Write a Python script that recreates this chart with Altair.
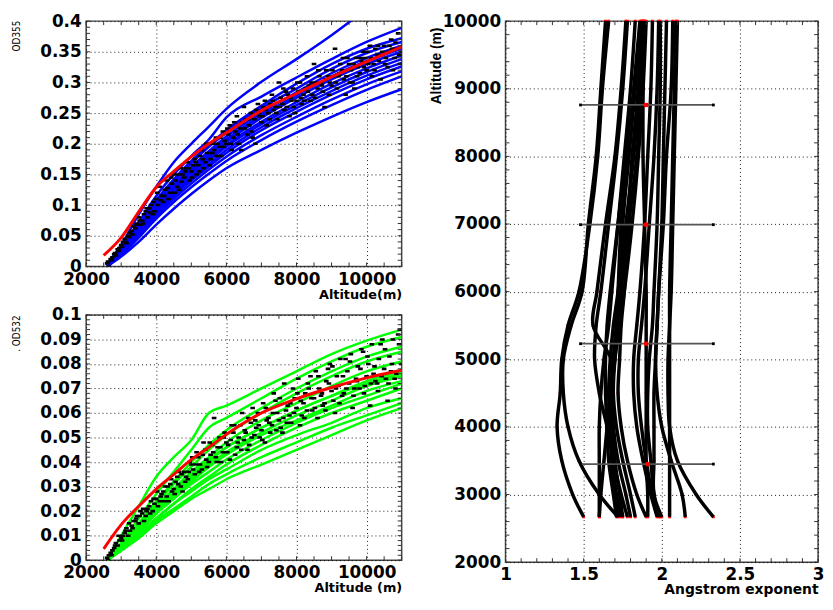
import altair as alt
import pandas as pd

# ---------------- data ----------------
ALT_NODES = [2600, 3000, 3500, 4000, 4500, 5000, 5500, 6000, 7000, 8000, 9000, 10000, 11000]

FIT_ALT = [2500, 3000, 3500, 4000, 4500, 5000, 5500, 6000, 7000, 8000, 9000, 10000, 11000]
FIT_355 = [0.018, 0.047, 0.089, 0.129, 0.155, 0.179, 0.200, 0.218, 0.254, 0.282, 0.309, 0.334, 0.358]
FIT_532 = [0.0046, 0.0145, 0.022, 0.029, 0.035, 0.041, 0.046, 0.0513, 0.060, 0.0658, 0.0704, 0.0743, 0.0774]

OD355_LINES = [
    [0.003, 0.035, 0.085, 0.130, 0.170, 0.200, 0.228, 0.257, 0.301, 0.338, 0.377, 0.420, None],
    [0.003, 0.030, 0.072, 0.115, 0.150, 0.180, 0.207, 0.243, 0.277, 0.308, 0.338, 0.366, 0.389],
    [0.002, 0.028, 0.068, 0.108, 0.142, 0.172, 0.198, 0.222, 0.262, 0.298, 0.330, 0.355, 0.372],
    [0.004, 0.030, 0.066, 0.104, 0.138, 0.168, 0.195, 0.218, 0.258, 0.290, 0.322, 0.348, 0.366],
    [0.002, 0.026, 0.062, 0.100, 0.133, 0.162, 0.188, 0.212, 0.250, 0.284, 0.315, 0.340, 0.360],
    [0.003, 0.027, 0.064, 0.098, 0.130, 0.158, 0.184, 0.207, 0.246, 0.279, 0.310, 0.335, 0.355],
    [0.001, 0.024, 0.058, 0.094, 0.126, 0.154, 0.180, 0.203, 0.242, 0.275, 0.305, 0.330, 0.350],
    [0.003, 0.025, 0.060, 0.095, 0.125, 0.152, 0.176, 0.198, 0.236, 0.268, 0.298, 0.323, 0.344],
    [0.002, 0.022, 0.055, 0.090, 0.120, 0.147, 0.172, 0.195, 0.232, 0.263, 0.292, 0.317, 0.338],
    [0.001, 0.023, 0.056, 0.088, 0.117, 0.143, 0.167, 0.190, 0.227, 0.258, 0.286, 0.311, 0.332],
    [0.002, 0.021, 0.052, 0.085, 0.114, 0.140, 0.163, 0.185, 0.222, 0.252, 0.280, 0.305, 0.326],
    [0.001, 0.020, 0.050, 0.082, 0.110, 0.135, 0.158, 0.179, 0.214, 0.244, 0.272, 0.297, 0.318],
    [0.000, 0.018, 0.047, 0.078, 0.105, 0.129, 0.151, 0.172, 0.206, 0.236, 0.263, 0.288, 0.310],
    [0.000, 0.016, 0.040, 0.068, 0.094, 0.118, 0.140, 0.160, 0.190, 0.218, 0.244, 0.268, 0.289],
]

OD532_LINES = [
    [0.000, 0.010, 0.022, 0.034, 0.042, 0.049, 0.060, 0.063, 0.070, 0.077, 0.084, 0.0895, 0.094],
    [0.000, 0.007, 0.017, 0.027, 0.036, 0.045, 0.054, 0.058, 0.066, 0.074, 0.081, 0.087, 0.091],
    [0.001, 0.006, 0.015, 0.024, 0.032, 0.040, 0.047, 0.053, 0.062, 0.070, 0.077, 0.083, 0.087],
    [0.000, 0.006, 0.014, 0.023, 0.031, 0.038, 0.045, 0.051, 0.060, 0.068, 0.075, 0.081, 0.085],
    [0.001, 0.005, 0.013, 0.021, 0.029, 0.036, 0.042, 0.048, 0.057, 0.064, 0.071, 0.077, 0.081],
    [0.000, 0.005, 0.013, 0.021, 0.028, 0.034, 0.040, 0.046, 0.054, 0.061, 0.067, 0.073, 0.077],
    [0.001, 0.006, 0.014, 0.022, 0.029, 0.035, 0.041, 0.046, 0.054, 0.061, 0.067, 0.072, 0.076],
    [0.000, 0.005, 0.012, 0.020, 0.027, 0.033, 0.039, 0.044, 0.052, 0.059, 0.065, 0.071, 0.075],
    [0.001, 0.004, 0.011, 0.019, 0.026, 0.032, 0.038, 0.043, 0.051, 0.057, 0.063, 0.069, 0.073],
    [0.000, 0.005, 0.012, 0.019, 0.025, 0.031, 0.036, 0.041, 0.049, 0.056, 0.062, 0.067, 0.072],
    [0.000, 0.004, 0.010, 0.017, 0.023, 0.029, 0.034, 0.039, 0.047, 0.054, 0.060, 0.065, 0.070],
    [0.001, 0.004, 0.010, 0.017, 0.023, 0.028, 0.033, 0.037, 0.045, 0.051, 0.056, 0.062, 0.066],
    [0.000, 0.004, 0.009, 0.016, 0.021, 0.026, 0.031, 0.035, 0.042, 0.048, 0.054, 0.059, 0.064],
    [0.000, 0.004, 0.009, 0.015, 0.020, 0.025, 0.029, 0.033, 0.039, 0.045, 0.051, 0.057, 0.062],
]

DOTS_355 = [
    (2600, 0.005), (2700, 0.012), (2800, 0.02), (2900, 0.028), (3000, 0.035), (3100, 0.045), (3200, 0.05),
    (3300, 0.058), (3400, 0.062), (3500, 0.08), (3600, 0.075), (3700, 0.09), (3800, 0.095), (3900, 0.085),
    (4000, 0.11), (4100, 0.13), (4200, 0.105), (4300, 0.14), (4400, 0.12), (4500, 0.15), (4600, 0.13),
    (4700, 0.16), (4800, 0.145), (4900, 0.17), (5000, 0.155), (5100, 0.175), (5200, 0.165), (5300, 0.19),
    (5400, 0.17), (5500, 0.2), (5600, 0.185), (5700, 0.21), (5800, 0.195), (5900, 0.22), (6000, 0.2),
    (6100, 0.23), (6200, 0.21), (6300, 0.245), (6400, 0.225), (6500, 0.26), (6600, 0.215), (6700, 0.25),
    (6800, 0.24), (6900, 0.265), (7000, 0.235), (7100, 0.27), (7200, 0.25), (7300, 0.28), (7400, 0.26),
    (7500, 0.3), (7600, 0.265), (7700, 0.285), (7800, 0.245), (7900, 0.29), (8000, 0.27), (8100, 0.3),
    (8200, 0.28), (8300, 0.31), (8400, 0.27), (8500, 0.33), (8600, 0.29), (8700, 0.3), (8800, 0.26),
    (8900, 0.31), (9000, 0.295), (9100, 0.355), (9200, 0.31), (9300, 0.32), (9400, 0.28), (9500, 0.33),
    (9600, 0.3), (9700, 0.34), (9800, 0.315), (9900, 0.35), (10000, 0.32), (10100, 0.36), (10200, 0.33),
    (10300, 0.345), (10400, 0.305), (10500, 0.36), (10600, 0.325), (10700, 0.37), (10800, 0.34),
    (10900, 0.38), (11000, 0.35),
    (2650, 0.0), (2750, 0.015), (2850, 0.018), (2950, 0.03), (3050, 0.04), (3150, 0.038), (3250, 0.055),
    (3350, 0.065), (3450, 0.07), (3550, 0.068), (3650, 0.085), (3750, 0.08), (3850, 0.1), (3950, 0.09),
    (4050, 0.1), (4150, 0.115), (4250, 0.125), (4350, 0.11), (4450, 0.135), (4550, 0.14), (4650, 0.125),
    (4750, 0.15), (4850, 0.16), (4950, 0.14), (5050, 0.165), (5150, 0.15), (5250, 0.18), (5350, 0.16),
    (5450, 0.185), (5550, 0.175), (5650, 0.19), (5750, 0.2), (5850, 0.18), (5950, 0.205), (6050, 0.215),
    (6150, 0.19), (6250, 0.22), (6350, 0.2), (6450, 0.235), (6550, 0.24), (6650, 0.23), (6750, 0.21),
    (6850, 0.255), (6950, 0.245), (7050, 0.26), (7150, 0.23), (7250, 0.265), (7350, 0.255), (7450, 0.24),
    (7550, 0.275), (7650, 0.255), (7750, 0.28), (7850, 0.27), (7950, 0.25), (8050, 0.285), (8150, 0.265),
    (8250, 0.29), (8350, 0.295), (8450, 0.28), (8550, 0.3), (8650, 0.31), (8750, 0.285), (8850, 0.32),
    (8950, 0.3), (9050, 0.31), (9150, 0.29), (9250, 0.33), (9350, 0.305), (9450, 0.34), (9550, 0.32),
    (9650, 0.29), (9750, 0.325), (9850, 0.335), (9950, 0.34), (10050, 0.33), (10150, 0.31), (10250, 0.355),
    (10350, 0.335), (10450, 0.35), (10550, 0.34), (10650, 0.36), (10750, 0.32), (10850, 0.355), (10950, 0.33),
    (2625, 0.008), (2725, 0.01), (2825, 0.022), (2925, 0.025), (3025, 0.032), (3125, 0.04), (3225, 0.048),
    (3325, 0.052), (3425, 0.068), (3525, 0.075), (3625, 0.07), (3725, 0.095), (3825, 0.088), (3925, 0.105),
    (4025, 0.12), (4125, 0.108), (4225, 0.115), (4325, 0.128), (4425, 0.145), (4525, 0.12), (4625, 0.15),
    (4725, 0.138), (4825, 0.155), (4925, 0.16), (5025, 0.145), (5125, 0.17), (5225, 0.155), (5325, 0.175),
    (5425, 0.2), (5525, 0.165), (5625, 0.2), (5725, 0.18), (5825, 0.21), (5925, 0.195), (6025, 0.225),
    (6125, 0.2), (6225, 0.235), (6325, 0.215), (6425, 0.19), (6525, 0.225), (6625, 0.24), (6725, 0.22),
    (6825, 0.2), (6925, 0.25), (7025, 0.245), (7125, 0.255), (7225, 0.24), (7325, 0.27), (7425, 0.25),
    (7525, 0.26), (7625, 0.29), (7725, 0.26), (7825, 0.275), (7925, 0.26), (8025, 0.3), (8125, 0.275),
    (8225, 0.27), (8325, 0.285), (8425, 0.3), (8525, 0.275), (8625, 0.32), (8725, 0.295), (8825, 0.305),
    (8925, 0.28), (9025, 0.32), (9125, 0.3), (9225, 0.315), (9325, 0.34), (9425, 0.31), (9525, 0.3),
    (9625, 0.33), (9725, 0.31), (9825, 0.34), (9925, 0.325), (10025, 0.35), (10125, 0.34), (10225, 0.32),
    (10325, 0.36), (10425, 0.345), (10525, 0.33), (10625, 0.35), (10725, 0.355), (10825, 0.365), (10925, 0.345),
]

DOTS_532 = [
    (2600, 0.001), (2700, 0.003), (2800, 0.005), (2900, 0.006), (3000, 0.009), (3100, 0.011), (3200, 0.01),
    (3300, 0.014), (3400, 0.016), (3500, 0.015), (3600, 0.019), (3700, 0.018), (3800, 0.022), (3900, 0.02),
    (4000, 0.025), (4100, 0.024), (4200, 0.028), (4300, 0.026), (4400, 0.031), (4500, 0.029), (4600, 0.034),
    (4700, 0.03), (4800, 0.036), (4900, 0.033), (5000, 0.039), (5100, 0.035), (5200, 0.042), (5300, 0.037),
    (5400, 0.045), (5500, 0.04), (5600, 0.047), (5700, 0.042), (5800, 0.05), (5900, 0.044), (6000, 0.048),
    (6100, 0.041), (6200, 0.052), (6300, 0.046), (6400, 0.055), (6500, 0.049), (6600, 0.045), (6700, 0.056),
    (6800, 0.051), (6900, 0.06), (7000, 0.053), (7100, 0.048), (7200, 0.058), (7300, 0.055), (7400, 0.065),
    (7500, 0.057), (7600, 0.052), (7700, 0.061), (7800, 0.059), (7900, 0.07), (8000, 0.062), (8100, 0.055),
    (8200, 0.064), (8300, 0.061), (8400, 0.075), (8500, 0.066), (8600, 0.058), (8700, 0.067), (8800, 0.064),
    (8900, 0.078), (9000, 0.069), (9100, 0.06), (9200, 0.071), (9300, 0.067), (9400, 0.082), (9500, 0.072),
    (9600, 0.062), (9700, 0.074), (9800, 0.07), (9900, 0.085), (10000, 0.075), (10100, 0.063), (10200, 0.076),
    (10300, 0.072), (10400, 0.088), (10500, 0.078), (10600, 0.065), (10700, 0.077), (10800, 0.074),
    (10900, 0.092), (11000, 0.08),
    (2650, 0.002), (2750, 0.004), (2850, 0.007), (2950, 0.008), (3050, 0.01), (3150, 0.013), (3250, 0.012),
    (3350, 0.016), (3450, 0.018), (3550, 0.02), (3650, 0.016), (3750, 0.021), (3850, 0.024), (3950, 0.023),
    (4050, 0.022), (4150, 0.027), (4250, 0.03), (4350, 0.024), (4450, 0.028), (4550, 0.032), (4650, 0.036),
    (4750, 0.028), (4850, 0.034), (4950, 0.04), (5050, 0.037), (5150, 0.044), (5250, 0.039), (5350, 0.048),
    (5450, 0.038), (5550, 0.043), (5650, 0.058), (5750, 0.046), (5850, 0.04), (5950, 0.052), (6050, 0.047),
    (6150, 0.055), (6250, 0.043), (6350, 0.05), (6450, 0.06), (6550, 0.052), (6650, 0.047), (6750, 0.062),
    (6850, 0.054), (6950, 0.05), (7050, 0.064), (7150, 0.057), (7250, 0.052), (7350, 0.068), (7450, 0.06),
    (7550, 0.054), (7650, 0.072), (7750, 0.063), (7850, 0.056), (7950, 0.066), (8050, 0.074), (8150, 0.059),
    (8250, 0.068), (8350, 0.07), (8450, 0.061), (8550, 0.077), (8650, 0.07), (8750, 0.063), (8850, 0.073),
    (8950, 0.08), (9050, 0.065), (9150, 0.075), (9250, 0.082), (9350, 0.068), (9450, 0.077), (9550, 0.084),
    (9650, 0.07), (9750, 0.079), (9850, 0.086), (9950, 0.071), (10050, 0.08), (10150, 0.088), (10250, 0.073),
    (10350, 0.082), (10450, 0.09), (10550, 0.074), (10650, 0.083), (10750, 0.09), (10850, 0.076), (10950, 0.094),
    (2625, 0.0), (2725, 0.002), (2825, 0.006), (2925, 0.01), (3025, 0.008), (3125, 0.012), (3225, 0.015),
    (3325, 0.013), (3425, 0.017), (3525, 0.018), (3625, 0.021), (3725, 0.02), (3825, 0.019), (3925, 0.025),
    (4025, 0.028), (4125, 0.026), (4225, 0.024), (4325, 0.03), (4425, 0.033), (4525, 0.027), (4625, 0.031),
    (4725, 0.035), (4825, 0.032), (4925, 0.036), (5025, 0.042), (5125, 0.039), (5225, 0.036), (5325, 0.043),
    (5425, 0.041), (5525, 0.048), (5625, 0.044), (5725, 0.04), (5825, 0.046), (5925, 0.05), (6025, 0.044),
    (6125, 0.049), (6225, 0.055), (6325, 0.048), (6425, 0.045), (6525, 0.053), (6625, 0.058), (6725, 0.05),
    (6825, 0.057), (6925, 0.055), (7025, 0.049), (7125, 0.062), (7225, 0.056), (7325, 0.06), (7425, 0.053),
    (7525, 0.066), (7625, 0.058), (7725, 0.056), (7825, 0.064), (7925, 0.06), (8025, 0.068), (8125, 0.065),
    (8225, 0.058), (8325, 0.072), (8425, 0.066), (8525, 0.062), (8625, 0.075), (8725, 0.068), (8825, 0.061),
    (8925, 0.072), (9025, 0.079), (9125, 0.07), (9225, 0.064), (9325, 0.075), (9425, 0.07), (9525, 0.081),
    (9625, 0.067), (9725, 0.073), (9825, 0.078), (9925, 0.068), (10025, 0.083), (10125, 0.072), (10225, 0.079),
    (10325, 0.069), (10425, 0.075), (10525, 0.086), (10625, 0.072), (10725, 0.08), (10825, 0.07), (10925, 0.088),
]

# Angstrom exponent profiles (x = exponent) at these altitudes
ANG_ALT = [2670, 3000, 3500, 4000, 4500, 5000, 5500, 6000, 7000, 8000, 9000, 10000]
ANG_LINES = [
    [1.50, 1.43, 1.36, 1.33, 1.35, 1.36, 1.40, 1.47, 1.54, 1.59, 1.62, 1.66],
    [1.72, 1.60, 1.47, 1.40, 1.37, 1.37, 1.42, 1.49, 1.53, 1.58, 1.61, 1.64],
    [1.60, 1.60, 1.60, 1.60, 1.61, 1.63, 1.66, 1.68, 1.72, 1.76, 1.80, 1.83],
    [1.75, 1.71, 1.69, 1.68, 1.685, 1.675, 1.56, 1.585, 1.64, 1.70, 1.74, 1.77],
    [1.60, 1.61, 1.63, 1.65, 1.67, 1.69, 1.71, 1.72, 1.74, 1.78, 1.82, 1.86],
    [1.71, 1.69, 1.66, 1.65, 1.64, 1.64, 1.65, 1.67, 1.72, 1.77, 1.83, 1.87],
    [1.73, 1.70, 1.68, 1.67, 1.66, 1.67, 1.69, 1.72, 1.77, 1.82, 1.86, 1.89],
    [1.75, 1.73, 1.70, 1.68, 1.68, 1.70, 1.73, 1.76, 1.81, 1.85, 1.88, 1.90],
    [1.80, 1.77, 1.72, 1.69, 1.68, 1.69, 1.71, 1.73, 1.75, 1.79, 1.83, 1.87],
    [1.83, 1.80, 1.75, 1.71, 1.69, 1.70, 1.72, 1.74, 1.78, 1.81, 1.85, 1.88],
    [1.90, 1.84, 1.78, 1.74, 1.72, 1.73, 1.74, 1.76, 1.79, 1.84, 1.87, 1.89],
    [1.91, 1.91, 1.90, 1.90, 1.90, 1.90, 1.90, 1.90, 1.89, 1.88, 1.88, 1.88],
    [1.97, 1.93, 1.88, 1.84, 1.82, 1.82, 1.84, 1.86, 1.89, 1.91, 1.93, 1.94],
    [1.98, 1.95, 1.93, 1.91, 1.91, 1.92, 1.94, 1.95, 1.97, 1.98, 1.99, 1.99],
    [1.99, 1.94, 1.90, 1.87, 1.85, 1.85, 1.87, 1.89, 1.92, 1.95, 1.97, 1.98],
    [2.00, 1.95, 1.95, 1.95, 1.95, 1.96, 1.97, 1.98, 2.00, 2.01, 2.02, 2.03],
    [2.05, 2.05, 2.05, 2.05, 2.05, 2.05, 2.05, 2.05, 2.06, 2.07, 2.08, 2.09],
    [2.15, 2.13, 2.06, 2.00, 1.97, 1.96, 1.97, 1.98, 2.01, 2.03, 2.06, 2.07],
    [2.33, 2.22, 2.10, 2.05, 2.04, 2.04, 2.05, 2.06, 2.07, 2.08, 2.09, 2.10],
    [1.78, 1.74, 1.69, 1.65, 1.60, 1.57, 1.58, 1.61, 1.66, 1.71, 1.75, 1.78],
]

ERR_ALT = [3450, 5230, 6990, 8760]
ERR_MID = [1.91, 1.90, 1.90, 1.90]
ERR_LO = [1.48, 1.48, 1.48, 1.48]
ERR_HI = [2.33, 2.33, 2.33, 2.33]

X_TICKS_LEFT = [2000, 4000, 6000, 8000, 10000]
Y_TICKS_355 = [0, 0.05, 0.1, 0.15, 0.2, 0.25, 0.3, 0.35, 0.4]
Y_TICKS_532 = [0, 0.01, 0.02, 0.03, 0.04, 0.05, 0.06, 0.07, 0.08, 0.09, 0.1]
X_TICKS_ANG = [1, 1.5, 2, 2.5, 3]
Y_TICKS_ANG = [2000, 3000, 4000, 5000, 6000, 7000, 8000, 9000, 10000]

# ---------------- helpers ----------------
def long_df(nodes, lines):
    rows = []
    for i, vals in enumerate(lines):
        for a, v in zip(nodes, vals):
            if v is not None:
                rows.append({"x": a, "y": v, "id": i})
    return pd.DataFrame(rows)


def steps(lo, hi, step):
    n = int(round((hi - lo) / step))
    return [round(lo + k * step, 6) for k in range(n + 1)]


LABEL_FONT = "DejaVu Sans"
NARROW_FONT = "Liberation Sans Narrow, DejaVu Sans Condensed, Liberation Sans, sans-serif"
DASH = "M-1,-0.55H1V0.55H-1Z"


def x_axis(values, fmt, title, W, title_size=13, title_font=LABEL_FONT):
    return alt.Axis(
        values=values, title=title, orient="bottom", format=fmt, grid=True, gridColor="#000",
        gridDash=[1, 3], gridWidth=1, gridOpacity=0.9, ticks=False, domain=False,
        labelFont=LABEL_FONT, labelFontWeight="bold", labelFontSize=17, labelColor="#000",
        labelPadding=5, labelFlush=False, labelOverlap=False,
        titleFont=title_font, titleFontSize=title_size, titleFontWeight="bold", titleColor="#000",
        titleX=W, titleY=28, titleAlign="right", titleBaseline="middle", titleAngle=0,
    )


def y_axis(values, fmt, title, title_y, title_size=10, title_weight="normal", title_font=NARROW_FONT):
    return alt.Axis(
        values=values, title=title, orient="left", format=fmt, grid=True, gridColor="#000",
        gridDash=[1, 3], gridWidth=1, gridOpacity=0.9, ticks=False, domain=False,
        labelFont=LABEL_FONT, labelFontWeight="bold", labelFontSize=17, labelColor="#000",
        labelPadding=5, labelFlush=False, labelOverlap=False,
        titleFont=title_font, titleFontSize=title_size, titleFontWeight=title_weight, titleColor="#000",
        titleX=-70, titleY=title_y, titleAlign="right", titleBaseline="middle", titleAngle=270,
    )


def minor_ticks(xs, ys, W, H, xenc, yenc, L=4):
    dx = pd.DataFrame({"x": xs})
    dy = pd.DataFrame({"y": ys})
    rc = dict(color="#333", strokeWidth=1)
    return [
        alt.Chart(dy).mark_rule(**rc).encode(y=yenc, x=alt.value(0), x2=alt.value(L)),
        alt.Chart(dy).mark_rule(**rc).encode(y=yenc, x=alt.value(W - L), x2=alt.value(W)),
        alt.Chart(dx).mark_rule(**rc).encode(x=xenc, y=alt.value(0), y2=alt.value(L)),
        alt.Chart(dx).mark_rule(**rc).encode(x=xenc, y=alt.value(H - L), y2=alt.value(H)),
    ]


def od_panel(lines, fit, dots, color, ydom, yticks, yminor, ytitle, xtitle, W, H, title_y):
    xenc = alt.X("x:Q", scale=alt.Scale(domain=[2000, 11000], nice=False, zero=False),
                 axis=x_axis(X_TICKS_LEFT, "d", xtitle, W))
    yenc = alt.Y("y:Q", scale=alt.Scale(domain=ydom, nice=False, zero=False),
                 axis=y_axis(yticks, ".2~f", ytitle, title_y))
    df_lines = long_df(ALT_NODES, lines)
    df_fit = pd.DataFrame({"x": FIT_ALT, "y": fit})
    df_dots = pd.DataFrame(dots, columns=["x", "y"])
    layers = [
        alt.Chart(df_lines).mark_line(color=color, strokeWidth=2.5, interpolate="monotone", clip=True)
        .encode(x=xenc, y=yenc, detail="id:N"),
        alt.Chart(df_dots).mark_point(shape=DASH, filled=True, color="#000", size=22, opacity=1,
                                      strokeWidth=0, clip=True)
        .encode(x=xenc, y=yenc),
        alt.Chart(df_fit).mark_line(color="#ff0000", strokeWidth=3, interpolate="monotone", clip=True)
        .encode(x=xenc, y=yenc),
    ]
    layers += minor_ticks(steps(2000, 11000, 500), yminor, W, H, xenc, yenc)
    return alt.layer(*layers).properties(width=W, height=H)


LW, LH = 319, 248
top = od_panel(OD355_LINES, FIT_355, DOTS_355, "#0000ff", [0, 0.4], Y_TICKS_355,
               steps(0, 0.4, 0.01), "OD355", "Altitude(m)", LW, LH, -1)
bottom = od_panel(OD532_LINES, FIT_532, DOTS_532, "#00ff00", [0, 0.1], Y_TICKS_532,
                  steps(0, 0.1, 0.002), ". OD532", "Altitude (m)", LW, LH, 0)

# right panel
RW, RH = 316, 547
rx = alt.X("x:Q", scale=alt.Scale(domain=[1, 3], nice=False, zero=False),
           axis=x_axis(X_TICKS_ANG, ".1~f", "Angstrom exponent", RW, title_size=14))
ry = alt.Y("y:Q", scale=alt.Scale(domain=[2000, 10000], nice=False, zero=False),
           axis=y_axis(Y_TICKS_ANG, "d", "Altitude (m)", 6, title_size=14, title_weight="bold",
                       title_font="Liberation Sans, sans-serif"))
df_ang = pd.DataFrame([
    {"x": v, "y": a, "id": i}
    for i, vals in enumerate(ANG_LINES) for a, v in zip(ANG_ALT, vals)
])
df_err = pd.DataFrame({"y": ERR_ALT, "x": ERR_LO, "x2": ERR_HI, "mid": ERR_MID})
df_caps = pd.DataFrame({"y": ERR_ALT * 2, "x": ERR_LO + ERR_HI})
df_mid = pd.DataFrame({"y": ERR_ALT, "x": ERR_MID})

right_layers = [
    alt.Chart(df_ang).mark_square(color="#ff0000", size=8, opacity=1).encode(x=rx, y=ry),
    alt.Chart(df_ang).mark_line(color="#000", strokeWidth=3.5, interpolate="catmull-rom", clip=True)
    .encode(x=rx, y=ry, detail="id:N", order="y:Q"),
    alt.Chart(df_err).mark_rule(color="#555", strokeWidth=1.8).encode(x=rx, x2="x2:Q", y=ry),
    alt.Chart(df_caps).mark_square(color="#000", size=8, opacity=1).encode(x=rx, y=ry),
    alt.Chart(df_mid).mark_square(color="#ff0000", size=18, opacity=1).encode(x=rx, y=ry),
]
right_layers += minor_ticks(steps(1, 3, 0.1), steps(2000, 10000, 200), RW, RH, rx, ry)
right = alt.layer(*right_layers).properties(width=RW, height=RH)

left = alt.vconcat(top, bottom, spacing=3)
chart = alt.hconcat(left, right, spacing=25).properties(
    padding={"left": 3, "top": 0, "right": 0, "bottom": 0},
    background="#ffffff",
).configure_view(stroke="#444", strokeWidth=1.5)

chart.save("out.html", embed_options={"renderer": "svg", "actions": False})
